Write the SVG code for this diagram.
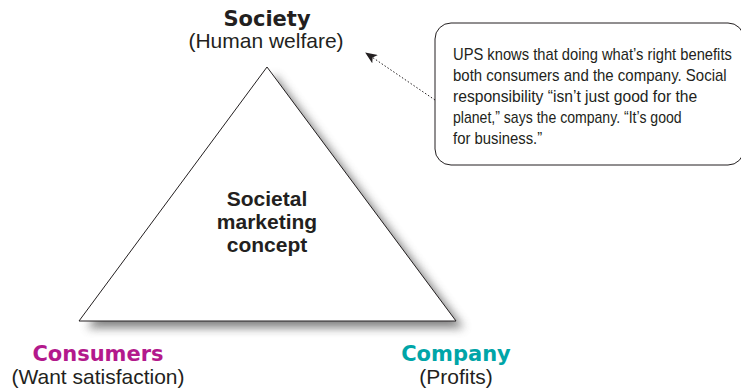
<svg xmlns="http://www.w3.org/2000/svg" width="741" height="391" viewBox="0 0 741 391">
<style>
.t{font-family:"Liberation Sans",Arial,sans-serif;fill:#231f20;text-anchor:middle}
.h{font-family:"DejaVu Sans","Liberation Sans",sans-serif;font-weight:bold;text-anchor:middle;font-size:21px}
.sub{font-size:21px}
.m{font-size:21px;font-weight:bold}
.c{font-family:"Liberation Sans",Arial,sans-serif;font-size:17px;fill:#231f20}
</style>
<defs>
<filter id="sh" x="-20%" y="-20%" width="140%" height="140%">
<feGaussianBlur stdDeviation="5"/>
</filter>
<marker id="ah" viewBox="0 0 12 10" refX="11" refY="5" markerWidth="12" markerHeight="10" markerUnits="userSpaceOnUse" orient="auto">
<path d="M0,0 L12,5 L0,10 L3,5 Z" fill="#231f20"/>
</marker>
</defs>
<g id="triangle">
<polygon points="275,75 464,328 87,328" fill="#6e6e6e" opacity="0.85" filter="url(#sh)"/>
<polygon points="267,67 456,321 79,321" fill="#fff" stroke="#231f20" stroke-width="1"/>
<text class="t m" x="267" y="206">Societal</text>
<text class="t m" x="267" y="229">marketing</text>
<text class="t m" x="267" y="252">concept</text>
</g>
<g id="society">
<text class="h" fill="#231f20" x="267" y="26">Society</text>
<text class="t sub" x="266" y="48">(Human welfare)</text>
</g>
<g id="consumers">
<text class="h" fill="#b3198c" x="98" y="361">Consumers</text>
<text class="t sub" x="98" y="384">(Want satisfaction)</text>
</g>
<g id="company">
<text class="h" fill="#00a5a8" x="456" y="361">Company</text>
<text class="t sub" x="456" y="384">(Profits)</text>
</g>
<g id="callout">
<rect x="435" y="23" width="309" height="142" rx="16" fill="#fff" stroke="#231f20" stroke-width="1"/>
<g transform="translate(453,0) scale(0.866,1)">
<text class="c" x="0" y="60" textLength="322" lengthAdjust="spacingAndGlyphs">UPS knows that doing what’s right benefits</text>
<text class="c" x="0" y="81" textLength="316" lengthAdjust="spacingAndGlyphs">both consumers and the company. Social</text>
<text class="c" x="0" y="102" textLength="282" lengthAdjust="spacingAndGlyphs">responsibility “isn’t just good for the</text>
<text class="c" x="0" y="123" textLength="264" lengthAdjust="spacingAndGlyphs">planet,” says the company. “It’s good</text>
<text class="c" x="0" y="144" textLength="103" lengthAdjust="spacingAndGlyphs">for business.”</text>
</g>
</g>
<g id="connectors">
<line x1="435" y1="100" x2="366" y2="53" stroke="#231f20" stroke-width="1" stroke-dasharray="1.5,2" marker-end="url(#ah)"/>
</g>
</svg>
